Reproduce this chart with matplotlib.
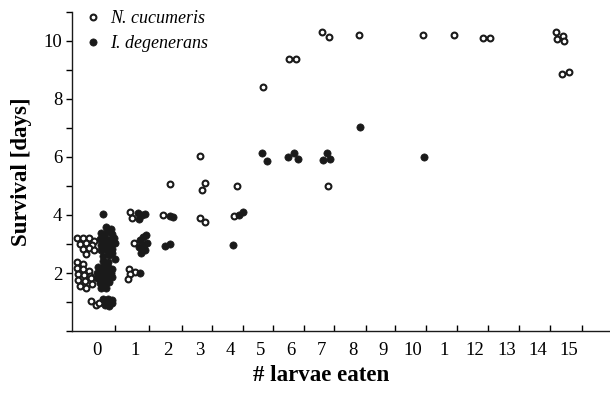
import matplotlib.pyplot as plt
import numpy as np

# survival (days) vs number of larvae eaten; x values are jittered positions
# along the category axis (category k sits between boundaries k and k+1)
categories = ['0', '1', '2', '3', '4', '5', '6', '7', '8', '9', '10', '1',
              '12', '13', '14', '15']

nc_x = [0.15, 0.35, 0.55, 0.72, 0.25, 0.45, 0.65, 0.35, 0.55, 0.70, 0.45,
        0.17, 0.35, 0.17, 0.36, 0.56, 0.20, 0.39, 0.58, 0.20, 0.42, 0.60,
        0.26, 0.45, 0.64,
        0.62, 0.76, 0.88,
        1.87, 1.93, 1.99, 1.85, 2.02, 1.87, 1.80,
        3.16, 2.93,
        4.13, 4.29, 4.18, 4.13, 4.29,
        5.33, 5.23,
        6.15,
        7.01, 7.23,
        8.05, 8.30, 8.24,
        9.24,
        11.31,
        12.33,
        13.26, 13.48,
        15.62, 15.85, 15.65, 15.88,
        15.80, 16.02]
nc_y = [3.20, 3.22, 3.20, 3.12, 3.00, 3.02, 2.98, 2.82, 2.85, 2.80, 2.65,
        2.37, 2.30, 2.16, 2.14, 2.07, 1.96, 1.93, 1.91, 1.76, 1.72, 1.82,
        1.56, 1.49, 1.61,
        1.03, 0.90, 0.98,
        4.09, 3.89, 3.02, 2.15, 2.05, 1.95, 1.78,
        5.07, 4.00,
        6.03, 5.09, 4.86, 3.89, 3.77,
        5.00, 3.97,
        8.40,
        9.37, 9.37,
        10.29, 10.15, 5.00,
        10.21,
        10.21,
        10.21,
        10.10, 10.10,
        10.30, 10.18, 10.05, 9.98,
        8.85, 8.92]

id_x = [1.01,
        1.10, 1.25, 0.95, 1.12, 1.30, 0.90, 1.05, 1.20, 1.35, 0.92, 1.08,
        1.25, 1.40, 0.95, 1.12, 1.28, 1.00, 1.20, 1.40, 1.02, 1.18, 1.30,
        1.00, 1.15, 0.85, 1.00, 1.15, 1.30, 0.80, 0.95, 1.10, 1.25, 0.82,
        0.98, 1.12, 1.28, 0.90, 1.05, 1.20, 0.95, 1.10, 1.08, 0.92, 1.22,
        1.00, 1.15, 1.28, 1.05, 1.20, 1.30,
        2.14, 2.25, 2.35, 2.17,
        2.19, 2.29, 2.39, 2.16, 2.32, 2.42, 2.23, 2.35,
        2.19,
        3.16, 3.25, 3.00, 3.16,
        5.40, 5.50, 5.19,
        6.14, 6.28,
        6.98, 7.17, 7.28,
        8.09, 8.22, 8.32,
        9.29,
        11.35]
id_y = [4.02,
        3.58, 3.50, 3.38, 3.40, 3.35, 3.18, 3.20, 3.15, 3.20, 2.98, 3.00,
        2.95, 3.02, 2.80, 2.78, 2.82, 2.60, 2.62, 2.50, 2.88, 3.08, 2.70,
        2.40, 2.38, 2.20, 2.22, 2.20, 2.15, 2.00, 2.02, 1.98, 2.00, 1.82,
        1.80, 1.82, 1.85, 1.65, 1.62, 1.68, 1.50, 1.48, 2.10, 1.90, 1.92,
        1.10, 1.12, 1.08, 0.90, 0.88, 0.95,
        4.06, 4.00, 4.03, 3.85,
        3.14, 3.24, 3.31, 2.90, 2.97, 3.03, 2.69, 2.79,
        1.99,
        3.97, 3.94, 2.94, 2.99,
        4.00, 4.10, 2.97,
        6.15, 5.87,
        5.99, 6.15, 5.92,
        5.90, 6.13, 5.92,
        7.02,
        6.01]

# category boundaries on the x axis (first category is wider)
bounds = [1.39, 2.49, 3.54, 4.53, 5.51, 6.49, 7.48, 8.46, 9.47, 10.42,
          11.41, 12.41, 13.43, 14.43, 15.42, 16.44]

plt.rcParams['font.family'] = ['Liberation Serif', 'DejaVu Serif']

fig = plt.figure(figsize=(6.10, 3.96), dpi=100, facecolor='white')
ax = fig.add_axes([0.118, 0.164, 0.882, 0.806])

ax.plot(nc_x, nc_y, 'o', ms=4.2, mfc='white', mec='#1a1a1a', mew=1.5,
        ls='none', label='N. cucumeris', zorder=3)
ax.plot(id_x, id_y, 'o', ms=5.2, mfc='#1a1a1a', mec='#1a1a1a', mew=0.5,
        ls='none', label='I. degenerans', zorder=4)

ax.set_xlim(0, 17.35)
ax.set_ylim(0, 11)

ax.spines['top'].set_visible(False)
ax.spines['right'].set_visible(False)
for s in ['left', 'bottom']:
    ax.spines[s].set_linewidth(1.0)
    ax.spines[s].set_color('#1a1a1a')

ax.set_xticks(bounds)
ax.set_xticklabels([])
ax.tick_params(axis='x', which='major', direction='in', length=4, width=1)
lbl_pos = [0.82] + [(bounds[i] + bounds[i + 1]) / 2 + 0.08
                    for i in range(len(bounds) - 1)]
ax.set_xticks(lbl_pos, minor=True)
ax.set_xticklabels(categories, minor=True, fontsize=13.5)
ax.tick_params(axis='x', which='minor', length=0, pad=8)

yt = np.arange(0, 12)
ax.set_yticks(yt)
ax.set_yticklabels([str(v) if v in (2, 4, 6, 8, 10) else '' for v in yt],
                   fontsize=13.5)
ax.tick_params(axis='y', direction='out', length=4, width=1, pad=3)

ax.set_xlabel('# larvae eaten', fontsize=16.5, fontweight='bold')
ax.xaxis.set_label_coords(0.463, -0.105)
ax.set_ylabel('Survival [days]', fontsize=16.5, fontweight='bold', labelpad=8)

ax.legend(loc='upper left', bbox_to_anchor=(0.003, 1.039), frameon=False,
          handlelength=1.0, handletextpad=0.4, labelspacing=0.42,
          borderaxespad=0.2, prop={'family': 'Liberation Serif',
                                   'style': 'italic', 'size': 13})

fig.savefig('out.png', dpi=100)
